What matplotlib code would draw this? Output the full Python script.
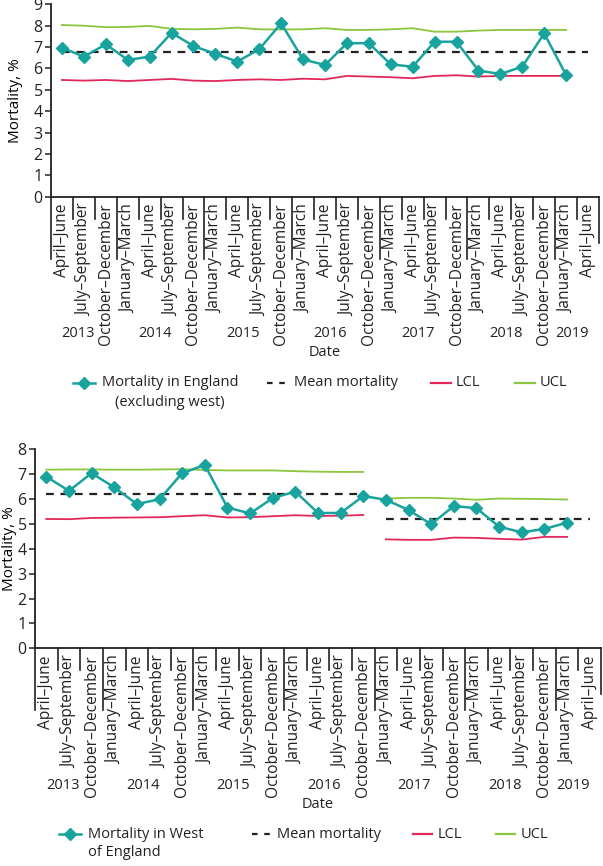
import numpy as np
import matplotlib.pyplot as plt
import matplotlib.transforms as mtransforms
from matplotlib.lines import Line2D

plt.rcParams['font.family'] = ['Open Sans', 'DejaVu Sans']
plt.rcParams['font.size'] = 10

# ---- categories -------------------------------------------------------------
quarters = ["April\u2013June", "July\u2013September", "October\u2013December"] + \
           ["January\u2013March", "April\u2013June", "July\u2013September", "October\u2013December"] * 5 + \
           ["January\u2013March", "April\u2013June"]
years = ["2013", "2014", "2015", "2016", "2017", "2018", "2019"]
year_start = [0, 3, 7, 11, 15, 19, 23]
year_end = [2, 6, 10, 14, 18, 22, 24]

# ---- top panel: England excluding west --------------------------------------
eng_mort = [6.97, 6.55, 7.13, 6.40, 6.55, 7.66, 7.05, 6.68, 6.32, 6.90, 8.11, 6.42,
            6.16, 7.18, 7.18, 6.19, 6.08, 7.25, 7.25, 5.90, 5.74, 6.08, 7.64, 5.69]
eng_mean = 6.75
eng_ucl = [8.03, 8.00, 7.93, 7.94, 7.99, 7.85, 7.83, 7.85, 7.91, 7.83, 7.82, 7.83,
           7.88, 7.80, 7.80, 7.83, 7.88, 7.72, 7.72, 7.77, 7.80, 7.80, 7.80, 7.80]
eng_lcl = [5.46, 5.43, 5.46, 5.41, 5.46, 5.51, 5.43, 5.41, 5.46, 5.49, 5.46, 5.52,
           5.49, 5.65, 5.62, 5.59, 5.54, 5.65, 5.68, 5.62, 5.65, 5.65, 5.65, 5.65]

# ---- bottom panel: West of England (two phases) -----------------------------
west_mort = [6.90, 6.33, 7.04, 6.47, 5.80, 5.99, 7.04, 7.37, 5.66, 5.42, 6.04, 6.30,
             5.44, 5.44, 6.12, 5.97, 5.56, 4.99, 5.72, 5.63, 4.89, 4.66, 4.80, 5.05]
west_mean = [6.2, 5.2]
west_ucl1 = [7.18, 7.19, 7.19, 7.18, 7.18, 7.19, 7.20, 7.17, 7.15, 7.15, 7.15, 7.12,
             7.10, 7.09, 7.09]
west_lcl1 = [5.20, 5.19, 5.24, 5.25, 5.26, 5.27, 5.31, 5.35, 5.26, 5.27, 5.31, 5.35,
             5.32, 5.33, 5.36]
west_ucl2 = [6.02, 6.05, 6.05, 6.02, 5.97, 6.02, 6.01, 6.00, 5.98]
west_lcl2 = [4.38, 4.36, 4.36, 4.45, 4.44, 4.40, 4.37, 4.48, 4.48]

legend_labels = ["Mean mortality", "LCL", "UCL"]

TEAL = '#19A39E'
RED = '#E2275A'
GREEN = '#8CC63E'
INK = '#222222'

W, H = 603, 866
fig = plt.figure(figsize=(W / 100, H / 100), dpi=100)

# offsets (px) below the x axis line
YEAR_DY, DATE_DY = 137, 156


def px_axes(left, top, right, bottom):
    return fig.add_axes([left / W, 1 - bottom / H, (right - left) / W, (bottom - top) / H])


def dress_axis(ax, ymax, ax_h_px, ylab_x):
    n = len(quarters)
    ax.set_xlim(-0.5, n - 0.5)
    ax.set_ylim(0, ymax)
    ax.set_yticks(range(ymax + 1))
    ax.set_xticks([])
    for s in ['top', 'right']:
        ax.spines[s].set_visible(False)
    for s in ['left', 'bottom']:
        ax.spines[s].set_linewidth(1.3)
        ax.spines[s].set_color(INK)
    ax.tick_params(axis='y', length=4, width=1.1, labelsize=11.5, colors=INK, pad=2)
    ax.set_ylabel("Mortality, %", fontsize=11)
    ax.yaxis.set_label_coords(ylab_x, 0.5)

    xt = ax.get_xaxis_transform()
    # category labels
    for k, lab in enumerate(quarters):
        tr = mtransforms.offset_copy(xt, fig=fig, x=0, y=-7, units='dots')
        ax.text(k, 0, lab, rotation=90, ha='center', va='top', transform=tr,
                fontsize=11.2, color=INK)
    # boundary lines (long ones mark the year groups)
    long_b = set(year_start) | {n}
    for b in range(n + 1):
        if b == n:
            L = 46
        elif b in long_b:
            L = 62
        else:
            L = 22
        ax.add_line(Line2D([b - 0.5, b - 0.5], [0, -L / ax_h_px], transform=xt,
                           color=INK, lw=1.2, clip_on=False))
    # year labels
    for yr, s, e in zip(years, year_start, year_end):
        tr = mtransforms.offset_copy(xt, fig=fig, x=0, y=-YEAR_DY, units='dots')
        ax.text((s + e) / 2 - 0.25, 0, yr, ha='center', va='center', transform=tr,
                fontsize=10.5, color=INK)
    tr = mtransforms.offset_copy(ax.transAxes, fig=fig, x=0, y=-DATE_DY, units='dots')
    ax.text(0.5, 0, "Date", ha='center', va='center', transform=tr, fontsize=10.5,
            color=INK)


x = np.arange(len(quarters))

# ---- top ----
ax1 = px_axes(51, 4.3, 599, 196.7)
ax1.plot(x[:len(eng_ucl)], eng_ucl, color=GREEN, lw=1.3)
ax1.plot(x[:len(eng_lcl)], eng_lcl, color=RED, lw=1.3)
ax1.plot([x[0], x[-1]], [eng_mean, eng_mean], color=INK, lw=1.6, ls=(0, (3.5, 3)))
ax1.plot(x[:len(eng_mort)], eng_mort, color=TEAL, lw=1.8, marker='D', ms=6)
dress_axis(ax1, 9, 192.4, (23 - 51) / 548)

# ---- bottom ----
ax2 = px_axes(35, 449.3, 601, 648.3)
p1 = len(west_ucl1)
ax2.plot(x[:p1], west_ucl1, color=GREEN, lw=1.3)
ax2.plot(x[:p1], west_lcl1, color=RED, lw=1.3)
ax2.plot(x[p1:p1 + len(west_ucl2)], west_ucl2, color=GREEN, lw=1.3)
ax2.plot(x[p1:p1 + len(west_lcl2)], west_lcl2, color=RED, lw=1.3)
ax2.plot([x[0], x[p1 - 1]], [west_mean[0]] * 2, color=INK, lw=1.6, ls=(0, (3.5, 3)))
ax2.plot([x[p1], x[-1]], [west_mean[1]] * 2, color=INK, lw=1.6, ls=(0, (3.5, 3)))
ax2.plot(x[:len(west_mort)], west_mort, color=TEAL, lw=1.8, marker='D', ms=6)
dress_axis(ax2, 8, 199, (17 - 35) / 566)

# ---- legends, laid out by hand in pixel space (Excel-style columns) ----
ov = fig.add_axes([0, 0, 1, 1], zorder=-1)
ov.set_xlim(0, W)
ov.set_ylim(H, 0)
ov.axis('off')


def draw_legend(first_lines, center_second, row_y, slots):
    styles = [dict(color=TEAL, lw=1.8),
              dict(color=INK, lw=1.6, ls=(0, (2.5, 3))),
              dict(color=RED, lw=1.6),
              dict(color=GREEN, lw=1.6)]
    labels = [first_lines[0]] + legend_labels
    for (hx0, hx1, tx), st, lab in zip(slots, styles, labels):
        ov.plot([hx0, hx1], [row_y, row_y], **st)
        ov.text(tx, row_y, lab, ha='left', va='center', fontsize=10.5, color=INK)
    hx0, hx1, tx = slots[0]
    ov.plot([(hx0 + hx1) / 2], [row_y], marker='D', ms=6, color=TEAL)
    # second line of the first label
    fig.canvas.draw()
    t0 = ov.texts[-4]
    bb = t0.get_window_extent()
    if center_second:
        ov.text((bb.x0 + bb.x1) / 2, row_y + 19, first_lines[1], ha='center',
                va='center', fontsize=10.5, color=INK)
    else:
        ov.text(tx, row_y + 19, first_lines[1], ha='left', va='center',
                fontsize=10.5, color=INK)


draw_legend(["Mortality in England", "(excluding west)"], True, 197 + 186,
            [(73, 95, 102), (267, 288, 294), (431, 451, 456), (515, 535, 540)])
draw_legend(["Mortality in West", "of England"], False, 648 + 186,
            [(59, 81, 88), (252, 271, 277), (413, 432, 438), (496, 515, 521)])

plt.savefig("out.png", dpi=100)
